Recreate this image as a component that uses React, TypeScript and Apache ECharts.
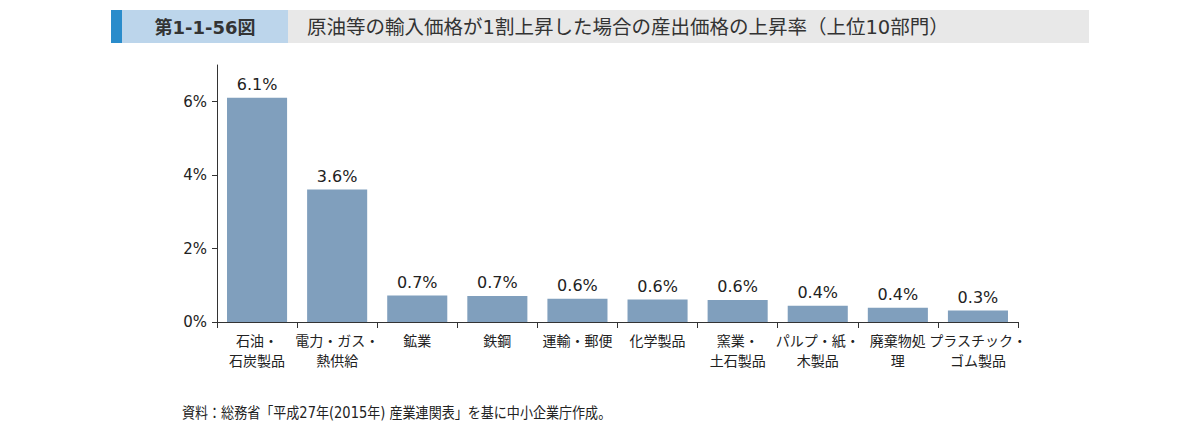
import { useEffect, useRef } from 'react'
import * as echarts from 'echarts'

// ===== データ =====
const categories = [
  '石油・\n石炭製品',
  '電力・ガス・\n熱供給',
  '鉱業',
  '鉄鋼',
  '運輸・郵便',
  '化学製品',
  '窯業・\n土石製品',
  'パルプ・紙・\n木製品',
  '廃棄物処\n理',
  'プラスチック・\nゴム製品',
]
const riseRates = [6.11, 3.61, 0.72, 0.71, 0.63, 0.61, 0.6, 0.44, 0.39, 0.31]
const yTicks = [0, 2, 4, 6]

const figNo = '第1-1-56図'
const title = '原油等の輸入価格が1割上昇した場合の産出価格の上昇率（上位10部門）'
const source = '資料：総務省「平成27年(2015年) 産業連関表」を基に中小企業庁作成。'

const FONT = '"DejaVu Sans", "Noto Sans CJK JP", sans-serif'

export default function App() {
  const ref = useRef<HTMLDivElement>(null)

  useEffect(() => {
    document.body.style.margin = '0'
    if (!ref.current) return
    const chart = echarts.init(ref.current, null, { renderer: 'svg' })
    chart.setOption({
      animation: false,
      backgroundColor: '#ffffff',
      textStyle: { fontFamily: FONT },
      grid: { left: 217, right: 170, top: 65, bottom: 110 },
      xAxis: {
        type: 'category',
        data: categories,
        axisLine: { lineStyle: { color: '#333', width: 1 } },
        axisTick: { show: true, length: 6, lineStyle: { color: '#333' } },
        axisLabel: {
          interval: 0,
          color: '#222',
          fontSize: 14,
          lineHeight: 20,
          margin: 9,
          fontFamily: FONT,
        },
      },
      yAxis: {
        type: 'value',
        min: 0,
        max: 7,
        interval: 1,
        axisLine: { show: true, lineStyle: { color: '#333', width: 1 } },
        axisTick: { show: true, length: 5, customValues: yTicks, lineStyle: { color: '#333' } },
        axisLabel: {
          customValues: yTicks,
          formatter: (v: number) => `${v}%`,
          color: '#222',
          fontSize: 15,
          margin: 10,
          fontFamily: FONT,
        },
        splitLine: { show: false },
      },
      series: [
        {
          type: 'bar',
          data: riseRates,
          barCategoryGap: '25%',
          itemStyle: { color: '#809fbd' },
          label: {
            show: true,
            position: 'top',
            distance: 5,
            color: '#222',
            fontSize: 16,
            fontFamily: FONT,
            formatter: (p: { value: number }) => `${p.value.toFixed(1)}%`,
          },
        },
      ],
      graphic: [
        { type: 'rect', shape: { x: 111, y: 10, width: 11, height: 33 }, style: { fill: '#2a8ccb' } },
        { type: 'rect', shape: { x: 122, y: 10, width: 166, height: 33 }, style: { fill: '#bcd5eb' } },
        { type: 'rect', shape: { x: 288, y: 10, width: 801, height: 33 }, style: { fill: '#e8e8e8' } },
        {
          type: 'text',
          x: 205,
          y: 27,
          style: {
            text: figNo,
            fill: '#333',
            fontSize: 18,
            fontWeight: 'bold',
            fontFamily: FONT,
            align: 'center',
            verticalAlign: 'middle',
          },
        },
        {
          type: 'text',
          x: 307,
          y: 27,
          style: {
            text: title,
            fill: '#333',
            fontSize: 19.5,
            fontFamily: FONT,
            align: 'left',
            verticalAlign: 'middle',
          },
        },
        {
          type: 'text',
          x: 182,
          y: 413,
          scaleX: 0.87,
          style: {
            text: source,
            fill: '#222',
            fontSize: 15,
            fontFamily: FONT,
            align: 'left',
            verticalAlign: 'middle',
          },
        },
      ],
    })
    return () => chart.dispose()
  }, [])

  return <div ref={ref} style={{ width: 1188, height: 432 }} />
}
